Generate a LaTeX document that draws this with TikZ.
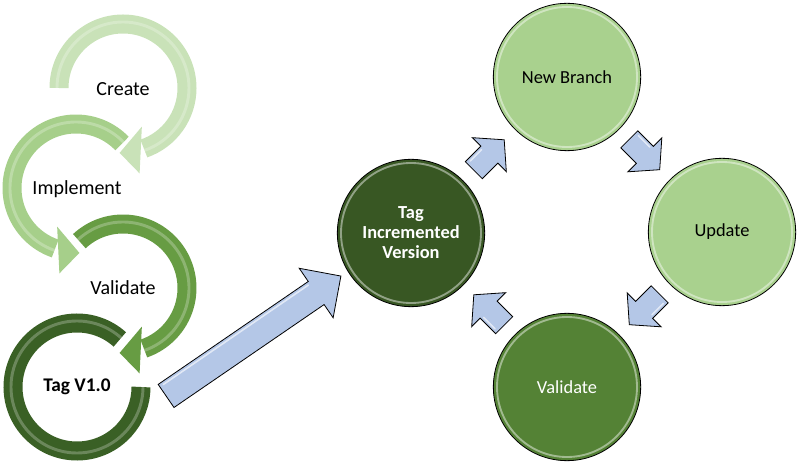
\documentclass[tikz,border=0pt]{standalone}
\usepackage{fontspec}
\setmainfont{Carlito}
\usetikzlibrary{calc}
\definecolor{arrowblue}{HTML}{B4C7E7}
\definecolor{ringA}{HTML}{C9E2B8}
\definecolor{ringB}{HTML}{A6CF8A}
\definecolor{ringC}{HTML}{679C43}
\definecolor{ringD}{HTML}{3A6025}
\definecolor{lightg}{HTML}{A9D18E}
\definecolor{midg}{HTML}{548235}
\definecolor{darkg}{HTML}{385723}
\tikzset{
  blk/.style={fill=arrowblue, draw=black, line width=0.6pt, line join=miter},
  lbl/.style={font=\fontsize{15}{17}\selectfont, text=black, inner sep=0pt},
  bubble/.style={circle, draw=black, line width=0.6pt, minimum size=110.5pt, inner sep=0pt,
     font=\fontsize{13.8}{15}\selectfont, align=center},
}
% block arrow centred at #1, direction #2, length #3, shaft #4, head width #5, head length #6
\newcommand\blockarrow[6]{%
  \begin{scope}[shift={#1},rotate=#2]
    \filldraw[blk] ({-#3/2},{-#4/2}) -- ({#3/2-#6},{-#4/2}) -- ({#3/2-#6},{-#5/2})
      -- ({#3/2},0) -- ({#3/2-#6},{#5/2}) -- ({#3/2-#6},{#4/2}) -- ({-#3/2},{#4/2}) -- cycle;
    \draw[white, opacity=.6, line width=1.2pt, line cap=round]
      ({-#3/2+4},{#4/2-3}) -- ({#3/2-#6-2},{#4/2-3});
  \end{scope}}
% ring arc: centre, start, end, colour
\newcommand\ringarc[4]{%
  \draw[line width=14.25pt, #4] ($(#1)+(#2:64)$) arc[start angle=#2, end angle=#3, radius=64];
  \draw[white, opacity=.25, line width=2.2pt] ($(#1)+(#2:66)$) arc[start angle=#2, end angle=#3, radius=66];}
% ring arrow head: centre, inner-corner angle, outer-corner angle, tip angle, colour
\newcommand\ringhead[5]{%
  \fill[#5] ($(#1)+(#2:43)$) -- ($(#1)+(#3:87)$) -- ($(#1)+(#4:65)$) -- cycle;}
\begin{document}
\begin{tikzpicture}[x=0.75pt,y=0.75pt]
\useasboundingbox (0,0) rectangle (799,464);

% ---- left chain of rings ----
\coordinate (cc) at (123,376);
\coordinate (ci) at (76,276);
\coordinate (cv) at (123,176);
\coordinate (ct) at (77,77);

\ringarc{cc}{180}{-71}{ringA}
\ringhead{cc}{-64}{-79}{-93}{ringA}
\ringarc{ci}{44}{251}{ringB}
\ringhead{ci}{244}{259}{273}{ringB}
\ringarc{cv}{133}{-71}{ringC}
\ringhead{cv}{-64}{-79}{-93}{ringC}
\ringarc{ct}{48}{360}{ringD}

\node[lbl] (create) at (123,375) {Create};
\node[lbl] (implement) at (77,275) {Implement};
\node[lbl] (validateA) at (123,176) {Validate};
\node[lbl, font=\fontsize{14.5}{17}\selectfont\bfseries] (tag) at (77,77) {Tag V1.0};

% ---- right cycle ----
\node[bubble, fill=darkg, text=white, font=\fontsize{13.8}{15}\selectfont\bfseries] (taginc) at (411,231)
  {Tag\\Incremented\\Version};
\node[bubble, fill=lightg] (nb) at (567,387) {New Branch};
\node[bubble, fill=lightg] (upd) at (722,232) {Update};
\node[bubble, fill=midg, text=white] (valB) at (567,77) {Validate};
\foreach \n in {taginc,nb,upd,valB}
  \draw[white, opacity=.45, line width=1.4pt] (\n.center) circle[radius=70];

\blockarrow{($(taginc)!0.5!(nb)$)}{45}{43}{24}{48}{21}
\blockarrow{($(nb)!0.5!(upd)$)}{-45}{43}{24}{48}{21}
\blockarrow{($(upd)!0.5!(valB)$)}{-135}{43}{24}{48}{21}
\blockarrow{($(valB)!0.5!(taginc)$)}{135}{43}{24}{48}{21}

% ---- big arrow ----
\coordinate (bigtail) at (166,68);
\coordinate (bigtip) at (341,188);
\blockarrow{($(bigtail)!0.5!(bigtip)$)}{34.44}{212}{28}{60}{30}
\end{tikzpicture}
\end{document}
